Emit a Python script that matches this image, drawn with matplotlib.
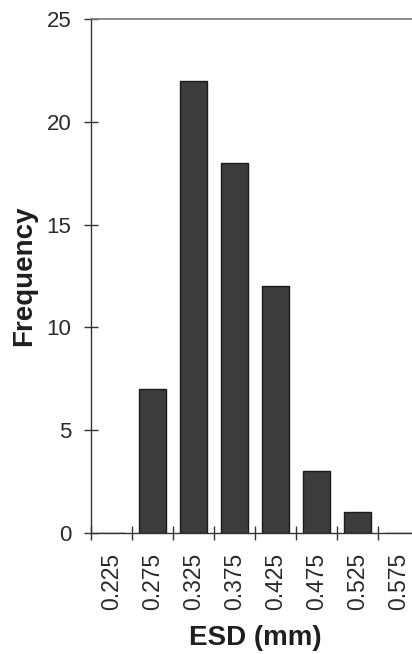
import matplotlib
matplotlib.use("Agg")
import matplotlib.pyplot as plt
import numpy as np

plt.rcParams['font.family'] = ['Liberation Sans', 'DejaVu Sans']

# ESD size classes (mm) and counts
esd_classes = ["0.225", "0.275", "0.325", "0.375", "0.425", "0.475", "0.525", "0.575"]
frequency = [0, 7, 22, 18, 12, 3, 1, 0]
y_ticks = [0, 5, 10, 15, 20, 25]

fig = plt.figure(figsize=(4.12, 6.54), dpi=100)
fig.patch.set_facecolor("white")
ax = fig.add_axes([91 / 412, 1 - 533 / 654, 328 / 412, 514 / 654])

x = np.arange(len(esd_classes))
ax.bar(x, frequency, width=0.66, color="#3c3c3c", edgecolor="#1a1a1a", linewidth=1.0)

ax.set_xlim(-0.5, len(esd_classes) - 0.5)
ax.set_ylim(0, 25)

text_color = "#2a2a2a"
ax.set_yticks(y_ticks)
ax.set_yticklabels([str(v) for v in y_ticks])
ax.set_xticks(x)
ax.set_xticklabels(esd_classes, rotation=90)
ax.set_xticks(np.arange(len(esd_classes) + 1) - 0.5, minor=True)

ax.tick_params(axis="x", which="major", length=0, pad=14, labelsize=16.5, labelcolor=text_color)
ax.tick_params(axis="x", which="minor", direction="inout", length=10, width=1.0, color="#333333")
ax.tick_params(axis="y", which="major", direction="inout", length=10, width=1.0, pad=9,
               labelsize=16, labelcolor=text_color, color="#333333")

for side in ("left", "bottom"):
    ax.spines[side].set_color("#333333")
    ax.spines[side].set_linewidth(1.0)
ax.spines["top"].set_color("#777777")
ax.spines["top"].set_linewidth(1.2)
ax.spines["right"].set_visible(False)

ax.set_ylabel("Frequency", fontsize=20, fontweight="bold", color="#1e1e1e", labelpad=7)
ax.set_xlabel("ESD (mm)", fontsize=20, fontweight="bold", color="#1e1e1e", labelpad=11)

fig.savefig("out.png", dpi=100)
